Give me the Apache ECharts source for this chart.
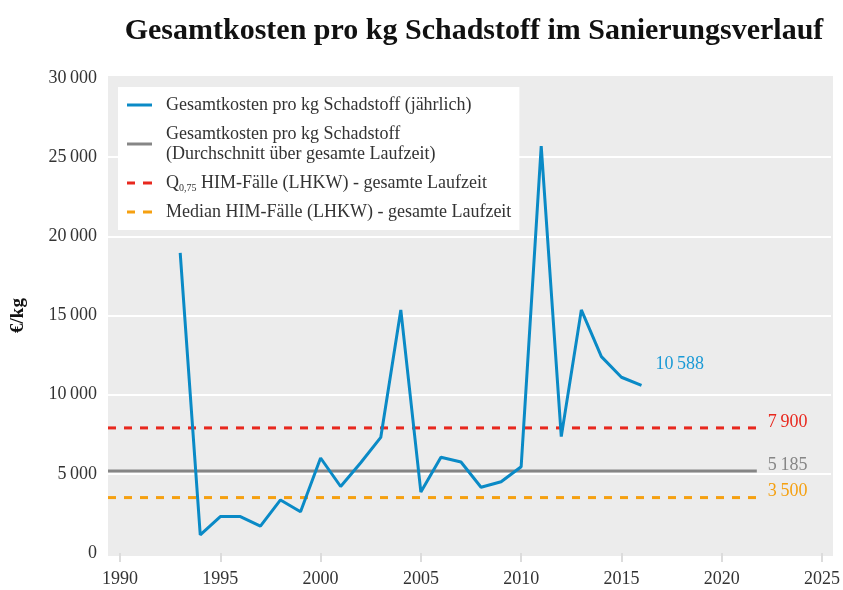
<!DOCTYPE html>
<html>
<head>
<meta charset="utf-8">
<script src="https://cdn.jsdelivr.net/npm/echarts@6/dist/echarts.min.js"></script>
<style>html,body{margin:0;padding:0;background:#fff}#main{width:843px;height:590px}</style>
</head>
<body>
<div id="main"></div>
<script>
var years = [1993,1994,1995,1996,1997,1998,1999,2000,2001,2002,2003,2004,2005,2006,2007,2008,2009,2010,2011,2012,2013,2014,2015,2016];
var costs = [18950,1150,2300,2300,1700,3350,2600,6000,4200,5700,7300,15350,3850,6050,5750,4150,4500,5450,25700,7350,15350,12400,11100,10588];
var avgValue = 5185;
var q75Value = 7900;
var medianValue = 3500;
var refSpan = [1989.4, 2021.75];
var xTicks = [1990,1995,2000,2005,2010,2015,2020,2025];
var names = [
  'Gesamtkosten pro kg Schadstoff (jährlich)',
  'Gesamtkosten pro kg Schadstoff\n(Durchschnitt über gesamte Laufzeit)',
  'Q_0,75 HIM-Fälle (LHKW) - gesamte Laufzeit',
  'Median HIM-Fälle (LHKW) - gesamte Laufzeit'
];

var font = '"Liberation Serif", "DejaVu Serif", serif';
var solidIcon = 'path://M0,0h25v3h-25z';
var dashIcon = 'path://M0,0h8v3h-8z M16,0h9v3h-9z';
function fmt(v) {
  return String(Math.round(v)).replace(/\B(?=(\d{3})+(?!\d))/g, '\u2009');
}
function refLine(name, value, color, dashed) {
  return {
    name: name, type: 'line', symbol: 'none',
    data: [[refSpan[0], value], [refSpan[1], value]],
    lineStyle: {color: color, width: 3, type: dashed ? [8, 8] : 'solid'},
    itemStyle: {color: color},
    endLabel: {show: true, formatter: function () { return fmt(value); },
      color: color, fontFamily: font, fontSize: 18, distance: 11, offset: [0, -6]},
    z: 2
  };
}

var myChart = echarts.init(document.getElementById('main'));
var option = {
  animation: false,
  backgroundColor: '#fff',
  title: {
    text: 'Gesamtkosten pro kg Schadstoff im Sanierungsverlauf',
    left: 469, top: 11, textAlign: 'center',
    textStyle: {fontFamily: font, fontWeight: 'bold', fontSize: 30, color: '#111'}
  },
  graphic: [{
    type: 'rect', z: -10, silent: true,
    shape: {x: 108, y: 76, width: 725, height: 480},
    style: {fill: '#ececec'}
  }],
  legend: {
    orient: 'vertical', left: 118, top: 87,
    backgroundColor: '#fff', padding: [8, 8, 8, 9], itemGap: 9,
    itemWidth: 25, itemHeight: 3,
    data: [
      {name: names[0], icon: solidIcon},
      {name: names[1], icon: solidIcon},
      {name: names[2], icon: dashIcon},
      {name: names[3], icon: dashIcon}
    ],
    formatter: function (n) {
      return n.indexOf('Q_') === 0 ? 'Q{sub|0,75}' + n.slice(6) : n;
    },
    textStyle: {fontFamily: font, fontSize: 18, color: '#333', lineHeight: 20, padding: [0, 0, 0, 9],
      rich: {sub: {fontFamily: font, fontSize: 10, color: '#333', padding: [10, 0, 0, 0]}}}
  },
  grid: {left: 108, right: 10, top: 78, bottom: 37},
  xAxis: {
    type: 'value', min: 1989.4, max: 2025.45,
    axisLine: {show: false},
    axisTick: {show: true, length: 9, lineStyle: {color: '#dcdcdc', width: 2}, customValues: xTicks},
    axisLabel: {fontFamily: font, fontSize: 18, color: '#333', margin: 17, customValues: xTicks,
      formatter: function (v) { return String(v); }},
    splitLine: {show: false}
  },
  yAxis: {
    type: 'value', min: 0, max: 30000, interval: 5000,
    name: '€/kg', nameLocation: 'middle', nameGap: 80,
    nameTextStyle: {fontFamily: font, fontWeight: 'bold', fontSize: 19, color: '#111'},
    axisLine: {show: false}, axisTick: {show: false},
    axisLabel: {fontFamily: font, fontSize: 18, color: '#333', margin: 11, formatter: fmt},
    splitLine: {show: true, showMinLine: false, showMaxLine: false, lineStyle: {color: '#fff', width: 2}}
  },
  series: [
    {
      name: names[0], type: 'line', symbol: 'none',
      data: years.map(function (y, i) { return [y, costs[i]]; }),
      lineStyle: {color: '#0a8ac6', width: 3},
      itemStyle: {color: '#0a8ac6'},
      endLabel: {show: true, formatter: function () { return fmt(costs[costs.length - 1]); },
        color: '#1a9ad6', fontFamily: font, fontSize: 18, distance: 14, offset: [0, -21]},
      z: 3
    },
    refLine(names[1], avgValue, '#868686', false),
    refLine(names[2], q75Value, '#e8281e', true),
    refLine(names[3], medianValue, '#f5a010', true)
  ]
};
myChart.setOption(option);
</script>
</body>
</html>
